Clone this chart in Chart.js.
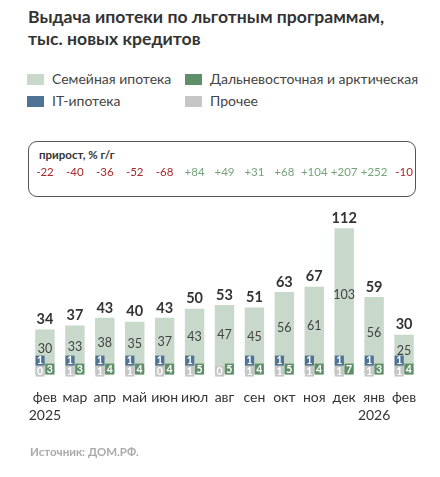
<!DOCTYPE html>
<html>
<head>
<meta charset="utf-8">
<script src="https://cdn.jsdelivr.net/npm/chart.js@4.4.1/dist/chart.umd.min.js"></script>
<style>
  body { margin: 0; background: #fff; font-family: Lato, 'Noto Sans', sans-serif; }
  #wrap { position: relative; width: 440px; height: 477px; overflow: hidden; }
  .title { position: absolute; left: 28px; top: 6px; font-size: 17.6px; font-weight: 700; color: #333; line-height: 22px; }
  .lg { position: absolute; font-size: 14px; color: #444; line-height: 14px; }
  .lg i { display: inline-block; width: 17px; height: 11px; margin-right: 8px; vertical-align: -1px; }
  .growth { position: absolute; left: 28px; top: 141px; width: 388px; height: 56px; border: 1.3px solid #555; border-radius: 9px; box-sizing: border-box; }
  .growth span { position: absolute; left: 10px; top: 6px; font-size: 11.5px; font-weight: 700; color: #333; }
  .src { position: absolute; left: 30px; top: 445px; font-size: 11.5px; font-weight: 700; color: #aaa; }
  canvas { position: absolute; left: 0; top: 0; }
</style>
</head>
<body>
<div id="wrap">
  <div class="title">Выдача ипотеки по льготным программам,<br>тыс. новых кредитов</div>
  <div class="lg" style="left:27px;top:72px"><i style="background:#c8d8ca"></i>Семейная ипотека</div>
  <div class="lg" style="left:185px;top:72px"><i style="background:#5f8f68"></i>Дальневосточная и арктическая</div>
  <div class="lg" style="left:27px;top:94px"><i style="background:#4e7394"></i>IT-ипотека</div>
  <div class="lg" style="left:185px;top:94px"><i style="background:#c6c6c6"></i>Прочее</div>
  <div class="growth"><span>прирост, % г/г</span></div>
  <canvas id="c" width="440" height="477"></canvas>
  <div class="src">Источник: ДОМ.РФ.</div>
</div>
<script>
const months = ['фев', 'мар', 'апр', 'май', 'июн', 'июл', 'авг', 'сен', 'окт', 'ноя', 'дек', 'янв', 'фев']
const years = ['2025', '', '', '', '', '', '', '', '', '', '', '2026', '']
const totals = [34, 37, 43, 40, 43, 50, 53, 51, 63, 67, 112, 59, 30]
const family = [30, 33, 38, 35, 37, 43, 47, 45, 56, 61, 103, 56, 25]
const itMortgage = [1, 1, 1, 1, 1, 1, 0, 1, 1, 1, 1, 1, 1]
const farEast = [3, 3, 4, 4, 4, 5, 5, 4, 5, 4, 7, 3, 4]
const other = [0, 1, 1, 1, 0, 1, 0, 1, 1, 1, 1, 1, 1]
const growth = [-22, -40, -36, -52, -68, 84, 49, 31, 68, 104, 207, 252, -10]

const labels = months.map((m, i) => years[i] ? [m, years[i]] : m)
const rest = totals.map((t, i) => t - family[i])
const FONT = "Lato, 'Noto Sans', sans-serif"

// подписи: итоги, семейная, приросты и плашки малых программ
const labelPlugin = {
  id: 'labels',
  afterDatasetsDraw(chart) {
    const ctx = chart.ctx
    const x = chart.scales.x
    const base = chart.scales.y.getPixelForValue(0)
    ctx.save()
    ctx.textAlign = 'center'
    ctx.textBaseline = 'middle'
    // приросты
    ctx.font = '11.5px ' + FONT
    growth.forEach((g, i) => {
      ctx.fillStyle = g < 0 ? '#a8282c' : '#76a37b'
      ctx.fillText((g > 0 ? '+' : '') + g, x.getPixelForValue(i), 172)
    })
    // семейная и итог
    chart.getDatasetMeta(1).data.forEach((el, i) => {
      ctx.font = '12.5px ' + FONT
      ctx.fillStyle = '#444'
      ctx.fillText(family[i], el.x, (el.y + el.base) / 2)
      ctx.font = 'bold 14.5px ' + FONT
      ctx.fillStyle = '#333'
      ctx.fillText(totals[i], el.x, el.y - 10)
    })
    // малые программы
    ctx.font = 'bold 10.5px ' + FONT
    const drawBox = (el, top, bottom, color, val) => {
      ctx.fillStyle = color
      ctx.fillRect(el.x - el.width / 2, top, el.width, bottom - top)
      ctx.fillStyle = '#fff'
      ctx.fillText(val, el.x, (top + bottom) / 2 + 0.5)
    }
    chart.getDatasetMeta(2).data.forEach((el, i) => {
      drawBox(el, base - 8, base + 3, '#c6c6c6', other[i])
    })
    chart.getDatasetMeta(3).data.forEach((el, i) => {
      if (itMortgage[i] > 0) drawBox(el, base - 18, base - 8, '#4e7394', itMortgage[i])
    })
    chart.getDatasetMeta(4).data.forEach((el, i) => {
      const h = Math.max(11, base - el.y)
      drawBox(el, base - h + 1, base + 1, '#5f8f68', farEast[i])
    })
    ctx.restore()
  }
}

const bigOpts = { grouped: false, categoryPercentage: 1, barPercentage: 0.65, stack: 'big' }
const smallOpts = { categoryPercentage: 0.65, barPercentage: 0.94 }

new Chart(document.getElementById('c'), {
  type: 'bar',
  data: {
    labels: labels,
    datasets: [
      { label: 'rest', data: rest, backgroundColor: '#c8d8ca', ...bigOpts },
      { label: 'Семейная ипотека', data: family, backgroundColor: '#c8d8ca', ...bigOpts },
      { label: 'Прочее', data: other, backgroundColor: '#c6c6c6', stack: 'L', ...smallOpts },
      { label: 'IT-ипотека', data: itMortgage, backgroundColor: '#4e7394', stack: 'L', ...smallOpts },
      { label: 'Дальневосточная и арктическая', data: farEast, backgroundColor: '#5f8f68', stack: 'R', ...smallOpts }
    ]
  },
  options: {
    responsive: false,
    animation: false,
    layout: { padding: { left: 30, right: 21, top: 218, bottom: 45 } },
    plugins: { legend: { display: false }, tooltip: { enabled: false } },
    scales: {
      x: {
        grid: { display: false },
        border: { display: false },
        ticks: { color: '#333', font: { size: 14, family: FONT, lineHeight: 1.3 }, padding: 7, maxRotation: 0, autoSkip: false }
      },
      y: { display: false, stacked: true, min: 0, max: 120 }
    }
  },
  plugins: [labelPlugin]
})
</script>
</body>
</html>
